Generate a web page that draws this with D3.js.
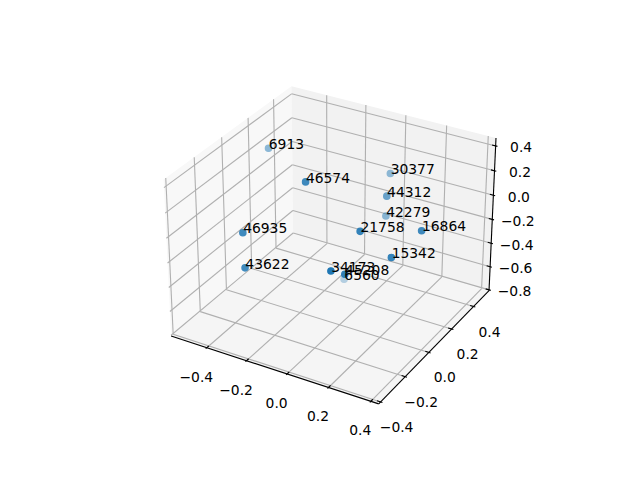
<!DOCTYPE html>
<html><head><meta charset="utf-8"><style>html,body{margin:0;padding:0;background:#fff}svg{display:block}text{font-family:"DejaVu Sans";font-size:13.89px;fill:#000}</style>
<script src="https://cdn.jsdelivr.net/npm/d3@7"></script></head><body><svg id="c" width="640" height="480"></svg>
<script>
const labels=["6913","46574","30377","44312","42279","21758","16864","15342","34173","45208","6560","46935","43622"];
const xs=[-0.473,-0.068,0.000,0.116,0.0456,0.2065,0.3946,0.3433,0.2055,0.1964,-0.1646,-0.239,-0.1988];
const ys=[0.188,-0.155,0.418,0.187,0.305,-0.183,-0.013,-0.167,-0.405,-0.284,0.308,-0.361,-0.410];
const zs=[0.272,0.461,0.088,0.147,-0.148,0.228,0.173,0.076,0.119,-0.022,-0.791,0.161,-0.053];
const xTicks=[-0.4,-0.2,0,0.2,0.4],yTicks=[-0.4,-0.2,0,0.2,0.4],zTicks=[-0.8,-0.6,-0.4,-0.2,0,0.2,0.4];
const xLim=[-0.583,0.4368],yLim=[-0.415,0.545],zLim=[-0.807,0.463];

const svg=d3.select("#c");
const f=1.8294640721620434*25/24/Math.sqrt(41);const ba=[4*f,4*f,3*f];
const sxW=d3.scaleLinear().domain(xLim).range([0,ba[0]]),syW=d3.scaleLinear().domain(yLim).range([0,ba[1]]),szW=d3.scaleLinear().domain(zLim).range([0,ba[2]]);
const dist=10,el=30*Math.PI/180,az=-60*Math.PI/180;
const R=ba.map(d=>d/2);
const w=[Math.cos(az)*Math.cos(el),Math.sin(az)*Math.cos(el),Math.sin(el)];
const E=R.map((r,i)=>r+dist*w[i]);
const cross=(a,b)=>[a[1]*b[2]-a[2]*b[1],a[2]*b[0]-a[0]*b[2],a[0]*b[1]-a[1]*b[0]];
const dot=(a,b)=>a[0]*b[0]+a[1]*b[1]+a[2]*b[2];
let u=cross([0,0,1],w);const n=Math.hypot(...u);u=u.map(d=>d/n);const v=cross(w,u);
const px=d3.scaleLinear().domain([-.095,.09]).range([143.2,512.8]);
const py=d3.scaleLinear().domain([-.095,.09]).range([427.2,57.6]);
function proj(x,y,z){const p=[sxW(x)-E[0],syW(y)-E[1],szW(z)-E[2]];const D=-dot(p,w);return [px(dot(p,u)/D),py(dot(p,v)/D),D];}
function line(a,b,c,wd){const p=proj(...a),q=proj(...b);svg.append("line").attr("x1",p[0]).attr("y1",p[1]).attr("x2",q[0]).attr("y2",q[1]).attr("stroke",c).attr("stroke-width",wd);}
function poly(pts,c){svg.append("polygon").attr("points",pts.map(p=>proj(...p).slice(0,2).join(",")).join(" ")).attr("fill",c);}
const [x0,x1]=xLim,[y0,y1]=yLim,[z0,z1]=zLim;
poly([[x0,y0,z0],[x0,y1,z0],[x0,y1,z1],[x0,y0,z1]],"#f8f8f8");
poly([[x0,y1,z0],[x1,y1,z0],[x1,y1,z1],[x0,y1,z1]],"#f2f2f2");
poly([[x0,y0,z0],[x1,y0,z0],[x1,y1,z0],[x0,y1,z0]],"#f5f5f5");
const G="#b0b0b0",GW=1.11,AW=1.11;
xTicks.forEach(t=>{line([t,y0,z0],[t,y1,z0],G,GW);line([t,y1,z0],[t,y1,z1],G,GW);});
yTicks.forEach(t=>{line([x1,t,z0],[x0,t,z0],G,GW);line([x0,t,z0],[x0,t,z1],G,GW);});
zTicks.forEach(t=>{line([x0,y0,t],[x0,y1,t],G,GW);line([x0,y1,t],[x1,y1,t],G,GW);});
line([x0,y0,z0],[x1,y0,z0],"#000",AW);line([x1,y0,z0],[x1,y1,z0],"#000",AW);line([x1,y1,z0],[x1,y1,z1],"#000",AW);
const dx=(x1-x0)/12,dy=(y1-y0)/12;
const fmt=d=>d3.format(".1f")(d).replace("-","\u2212");
function tickLabel(p,ox,oy,t){svg.append("text").attr("x",p[0]+ox).attr("y",p[1]+oy).attr("text-anchor","middle").text(fmt(t));}
xTicks.forEach(t=>{line([t,y0-.1*dy,z0],[t,y0+.2*dy,z0],"#000",AW);tickLabel(proj(t,y0,z0),-10.5,34,t);});
yTicks.forEach(t=>{line([x1+.1*dx,t,z0],[x1-.2*dx,t,z0],"#000",AW);tickLabel(proj(x1,t,z0),16,30,t);});
zTicks.forEach(t=>{line([x1+.1*dx,y1,t],[x1-.2*dx,y1,t],"#000",AW);tickLabel(proj(x1,y1,t),25.5,6.5,t);});
const P=labels.map((l,i)=>({l,p:proj(xs[i],ys[i],zs[i])}));
const dom=d3.extent(P,d=>d.p[2]);
const op=d3.scaleLinear().domain(dom).range([1,.3]);
svg.append("g").selectAll("circle").data(P.slice().sort((a,b)=>b.p[2]-a.p[2])).join("circle")
 .attr("cx",d=>d.p[0]).attr("cy",d=>d.p[1]).attr("r",3.1).attr("fill","#1f77b4").attr("stroke","#1f77b4").attr("stroke-width",1.4).attr("opacity",d=>op(d.p[2]));
svg.append("g").selectAll("text").data(P).join("text").attr("x",d=>d.p[0]+.3).attr("y",d=>d.p[1]+.7).text(d=>d.l);
</script></body></html>
